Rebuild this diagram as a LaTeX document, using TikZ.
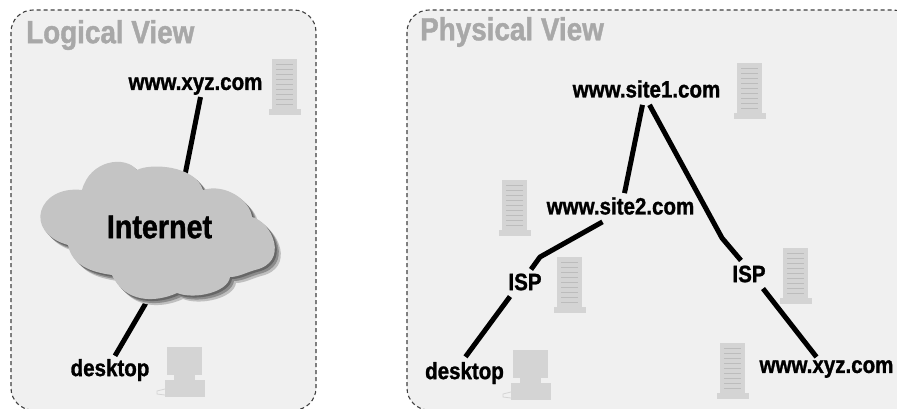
\documentclass[tikz,border=0pt]{standalone}
\usepackage{fontspec}
\newfontfamily\labelfont{Liberation Sans Bold}[FakeStretch=0.87,FakeBold=1.2]
\definecolor{viewbg}{HTML}{F0F0F0}
\definecolor{viewtitle}{HTML}{A8A8A8}
\definecolor{cloudgray}{HTML}{C4C4C4}
\definecolor{icongray}{HTML}{D4D4D4}
\definecolor{stripegray}{HTML}{BCBCBC}
\tikzset{
 viewbox/.style={draw=black!75,fill=viewbg,line width=1.1pt,dash pattern=on 4pt off 3pt,rounded corners=22pt},
 viewname/.style={text=viewtitle,font=\labelfont\fontsize{32}{34}\selectfont,anchor=west,inner sep=0pt},
 hostname/.style={font=\labelfont\fontsize{23.6}{25}\selectfont,inner sep=0pt},
 link/.style={line width=5pt,line join=round},
}
\newcommand{\cloudpath}{(82,190) .. controls (90,160) and (125,155) .. (137,170)
 .. controls (150,163) and (195,165) .. (203,190)
 .. controls (225,183) and (250,200) .. (252,217)
 .. controls (272,222) and (290,262) .. (255,270)
 .. controls (245,273) and (238,277) .. (230,277)
 .. controls (228,292) and (195,300) .. (177,293)
 .. controls (155,303) and (125,303) .. (112,275)
 .. controls (90,272) and (72,265) .. (68,245)
 .. controls (22,232) and (38,185) .. (82,190) -- cycle}
\newcommand{\towericon}[1]{
 \begin{scope}[shift={#1}]
 \fill[icongray] (0,0) rectangle (25,53);
 \fill[icongray] (-3,50) rectangle (29,56);
 \foreach \k in {0,...,8} \draw[stripegray,line width=.8pt] (4,5+5*\k) -- (21,5+5*\k);
 \end{scope}}
\newcommand{\desktopicon}[1]{
 \begin{scope}[shift={#1}]
 \fill[icongray] (2,0) rectangle (37,28);
 \fill[icongray] (9,28) rectangle (30,33);
 \fill[icongray] (0,33) rectangle (40,50);
 \draw[icongray,line width=.8pt] (0,42) -- (-8,44) -- (-8,47) -- (0,48);
 \end{scope}}
\begin{document}
\begin{tikzpicture}[x=1pt,y=-1pt,line cap=butt]
 \useasboundingbox (0,0) rectangle (897,408);
 \clip (0,0) rectangle (897,408);
 \fill[white] (0,0) rectangle (897,408);
 % logical view
 \draw[viewbox] (11,10) rectangle (316,410);
 \node[viewname] (logicaltitle) at (26,35) {Logical View};
 \node[hostname] (xyzleft) at (195.5,86) {www.xyz.com};
 \node[hostname] (desktopleft) at (110,370) {desktop};
 \towericon{(272,59)}
 \desktopicon{(165,347)}
 \coordinate (cloudtop) at (184,180);
 \coordinate (cloudbottom) at (150,296);
 \draw[link] ([shift={(5,2)}]xyzleft.south) -- (cloudtop);
 \draw[link] (cloudbottom) -- ([shift={(5,-3)}]desktopleft.north);
 \fill[black!25] [shift={(6,6)}] \cloudpath;
 \fill[black!45] [shift={(4,4)}] \cloudpath;
 \fill[black!60] [shift={(2,2)}] \cloudpath;
 \fill[cloudgray] \cloudpath;
 \node[font=\labelfont\fontsize{33}{35}\selectfont,inner sep=0pt] (internet) at (159.5,227) {Internet};
 % physical view
 \draw[viewbox] (407,10) rectangle (915,410);
 \node[viewname] (physicaltitle) at (420,32) {Physical View};
 \node[hostname] (siteone) at (646.5,89) {www.site1.com};
 \node[hostname] (sitetwo) at (620.5,206) {www.site2.com};
 \node[hostname] (ispleft) at (525,282) {ISP};
 \node[hostname] (ispright) at (749,274) {ISP};
 \node[hostname] (desktopright) at (464.5,373) {desktop};
 \node[hostname] (xyzright) at (826.5,369) {www.xyz.com};
 \towericon{(737,63)}
 \towericon{(502,180)}
 \towericon{(557,257)}
 \towericon{(783,248)}
 \towericon{(720,343)}
 \desktopicon{(511,350)}
 \coordinate (bendleft) at (540,257);
 \coordinate (bendright) at (722,238);
 \draw[link] ([shift={(-4,7)}]siteone.south) -- ([shift={(4,-4)}]sitetwo.north);
 \draw[link] ([shift={(3,7)}]siteone.south) -- (bendright) -- ([shift={(-8,-5)}]ispright.north);
 \draw[link] ([shift={(-18,7)}]sitetwo.south) -- (bendleft) -- ([shift={(6,-4)}]ispleft.north);
 \draw[link] ([shift={(-15,6)}]ispleft.south) -- ([shift={(1,-5)}]desktopright.north);
 \draw[link] ([shift={(14,6)}]ispright.south) -- ([shift={(-10,-3)}]xyzright.north);
\end{tikzpicture}
\end{document}
